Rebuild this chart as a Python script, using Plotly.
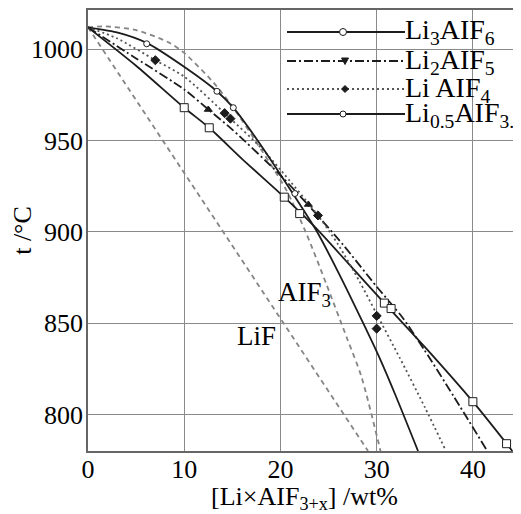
import plotly.graph_objects as go

# ---------------- data ----------------
li3_x = [0, 5, 10, 12.6, 16, 20.4, 23.7, 27, 30.8, 35, 40, 44.1]
li3_y = [1012, 991, 968, 957, 940, 919, 902, 883, 861, 837, 807, 780]
li3_mx = [10.0, 12.6, 20.4, 22.0, 30.8, 31.5, 40.0, 43.5]
li3_my = [968, 957, 919, 910, 861, 858, 807, 784]

li2_x = [0, 5, 10, 12.5, 15, 20, 23, 26.5, 30, 32.7, 35, 38, 41.5]
li2_y = [1012, 995, 978, 967, 956, 931, 914, 893, 870, 853, 835, 810, 780]
li2_mx = [12.5, 22.9]
li2_my = [967, 915]

li1_x = [0, 3, 7, 10, 14.5, 18, 20, 23.9, 26, 28.2, 30, 32.4, 35, 37.2]
li1_y = [1012, 1006, 994, 985, 963.5, 946, 934, 909, 893, 873, 855, 831, 804, 780]
li1_mx = [7.0, 14.2, 14.8, 23.9, 30.0, 30.0]
li1_my = [994, 965, 962, 909, 854, 847]

li05_x = [0, 3.2, 6.1, 10.1, 13.4, 15.1, 17.5, 20.3, 23.7, 26, 28.6, 30.3, 32, 34.3]
li05_y = [1012, 1009, 1003.5, 990, 977, 968, 951, 929, 901, 878, 850, 831, 810, 780]
li05_mx = [6.1, 13.4, 15.1, 21.5]
li05_my = [1003, 977, 968, 921]

alf3_x = [0, 1.8, 4.9, 8.3, 10, 13, 15.1, 18, 20.6, 22.7, 24.8, 26.9, 28.4, 30.4]
alf3_y = [1012, 1012.5, 1010.6, 1004, 998, 982, 968, 945, 923, 899, 871, 842, 821, 780]

lif_x = [0, 29.1]
lif_y = [1012, 780]

x_ticks = [0, 10, 20, 30, 40]
y_ticks = [800, 850, 900, 950, 1000]

legend_names = ["Li<sub>3</sub>AIF<sub>6</sub>", "Li<sub>2</sub>AIF<sub>5</sub>",
                "Li AIF<sub>4</sub>", "Li<sub>0.5</sub>AIF<sub>3.5</sub>"]

# ---------------- layout constants ----------------
OFF = 8                      # page body margin of the html page
W, H = 521 - OFF, 514 - OFF
ML, MR, MT, MB = 80, 0, 2, 63
PW, PH = W - ML - MR, H - MT - MB
FONT = "Liberation Serif, Times New Roman, serif"
BLACK = "#1c1c1c"
GRAY = "#858585"
DASHDOT = "9px,3px,2px,3px"
DOT = "2px,3px"


def px(xp):
    """page pixel x -> paper fraction"""
    return (xp - OFF - ML) / PW


def py(yp):
    """page pixel y -> paper fraction"""
    return (H - MB - (yp - OFF)) / PH


fig = go.Figure()


def curve(x, y, dash, color, width, shape="spline", smooth=0.7):
    fig.add_trace(go.Scatter(x=x, y=y, mode="lines", showlegend=False, hoverinfo="skip",
                             line=dict(color=color, width=width, dash=dash,
                                       shape=shape, smoothing=smooth if shape == "spline" else None)))


def marks(x, y, symbol, size, fill):
    fig.add_trace(go.Scatter(x=x, y=y, mode="markers", showlegend=False, hoverinfo="skip",
                             marker=dict(symbol=symbol, size=size, color=fill,
                                         line=dict(color=BLACK, width=1))))


curve(lif_x, lif_y, "5px,4px", GRAY, 1.8, shape="linear")
curve(alf3_x, alf3_y, "5px,4px", GRAY, 1.8)
curve(li3_x, li3_y, "solid", BLACK, 1.8)
curve(li2_x, li2_y, DASHDOT, BLACK, 1.8)
curve(li1_x, li1_y, DOT, "#555555", 1.8)
curve(li05_x, li05_y, "solid", BLACK, 1.8)

marks(li3_mx, li3_my, "square", 8, "white")
marks(li05_mx, li05_my, "circle", 6, "white")
marks(li2_mx, li2_my, "triangle-up", 7, BLACK)
marks(li1_mx, li1_my, "diamond", 7, BLACK)

# ---------------- hand-made legend box ----------------
shapes = [dict(type="rect", xref="paper", yref="paper", x0=px(283), x1=px(530),
               y0=py(132), y1=py(9), fillcolor="white", line=dict(width=0), layer="between")]
rows = [32, 61, 89, 114]
styles = [("solid", BLACK), (DASHDOT, BLACK), (DOT, "#555555"), ("solid", BLACK)]
for ry, (dash, col) in zip(rows, styles):
    shapes.append(dict(type="line", xref="paper", yref="paper", x0=px(287), x1=px(405),
                       y0=py(ry), y1=py(ry), line=dict(color=col, width=1.8, dash=dash)))
# legend key symbols
shapes.append(dict(type="circle", xref="paper", yref="paper", xsizemode="pixel", ysizemode="pixel",
                   xanchor=px(343), yanchor=py(rows[0]), x0=-3.5, x1=3.5, y0=-3.5, y1=3.5,
                   fillcolor="white", line=dict(color=BLACK, width=1)))
shapes.append(dict(type="path", xref="paper", yref="paper", xsizemode="pixel", ysizemode="pixel",
                   xanchor=px(345), yanchor=py(rows[1]), path="M-3.5,3 L3.5,3 L0,-3.5 Z",
                   fillcolor=BLACK, line=dict(color=BLACK, width=1)))
shapes.append(dict(type="path", xref="paper", yref="paper", xsizemode="pixel", ysizemode="pixel",
                   xanchor=px(345), yanchor=py(rows[2]), path="M0,-3.5 L3.5,0 L0,3.5 L-3.5,0 Z",
                   fillcolor=BLACK, line=dict(color=BLACK, width=1)))
shapes.append(dict(type="circle", xref="paper", yref="paper", xsizemode="pixel", ysizemode="pixel",
                   xanchor=px(343), yanchor=py(rows[3]), x0=-3, x1=3, y0=-3, y1=3,
                   fillcolor="white", line=dict(color=BLACK, width=1)))

annotations = []
for ry, name in zip(rows, legend_names):
    annotations.append(dict(text=name, xref="paper", yref="paper", x=px(403), y=py(ry),
                            xanchor="left", yanchor="middle", showarrow=False,
                            font=dict(family=FONT, size=28, color="black")))
annotations.append(dict(text="LiF", x=17.5, y=843, xref="x", yref="y", showarrow=False,
                        font=dict(family=FONT, size=27, color="black")))
annotations.append(dict(text="AIF<sub>3</sub>", x=22.5, y=866, xref="x", yref="y", showarrow=False,
                        font=dict(family=FONT, size=27, color="black")))

fig.update_layout(
    width=W, height=H, margin=dict(l=ML, r=MR, t=MT, b=MB, autoexpand=False),
    paper_bgcolor="white", plot_bgcolor="white",
    font=dict(family=FONT, size=26, color="black"),
    shapes=shapes, annotations=annotations, showlegend=False,
    xaxis=dict(range=[0, 45], tickvals=x_ticks, showgrid=True, gridcolor="#8a8a8a", gridwidth=1,
               zeroline=False, showline=True, linecolor="#666666", linewidth=1.5, mirror=True,
               ticks="", ticklabelstandoff=-6, tickfont=dict(size=26), automargin=False,
               title=dict(text="[Li×AIF<sub>3+x</sub>] /wt%", font=dict(size=26), standoff=7)),
    yaxis=dict(range=[780, 1021.5], tickvals=y_ticks, showgrid=True, gridcolor="#8a8a8a", gridwidth=1,
               zeroline=False, showline=True, linecolor="#666666", linewidth=1.5,
               ticks="", ticklabelstandoff=-2, tickfont=dict(size=26), automargin=False,
               title=dict(text="t /°C", font=dict(size=26), standoff=4)),
)

fig.write_html("out.html")
